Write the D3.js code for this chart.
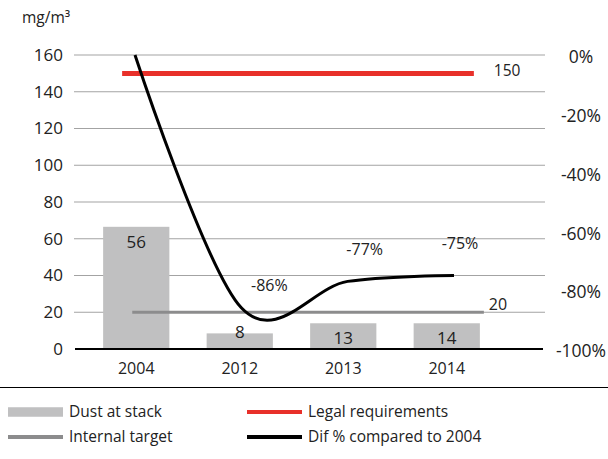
<!DOCTYPE html>
<html>
<head>
<meta charset="utf-8">
<script src="https://cdn.jsdelivr.net/npm/d3@7"></script>
<style>
  body { margin: 0; background: #fff; }
  svg { display: block; font-family: "Open Sans", "Noto Sans", sans-serif; }
</style>
</head>
<body>
<div id="chart"></div>
<script>
// data
const years = ["2004", "2012", "2013", "2014"];
const dustBars = [66.5, 8.5, 14, 14];        // drawn bar heights (mg/m3)
const dustLabels = ["56", "8", "13", "14"];  // printed values
const difPct = [0, -86, -77, -75];
const legalReq = 150;
const internalTarget = 20;
const leftTicks = [0, 20, 40, 60, 80, 100, 120, 140, 160];
const rightTicks = [0, -20, -40, -60, -80, -100];
const legendItems = [
  { label: "Dust at stack", color: "#c0c0c1", h: 9.5 },
  { label: "Legal requirements", color: "#e8302a", h: 4 },
  { label: "Internal target", color: "#8c8c8d", h: 4 },
  { label: "Dif % compared to 2004", color: "#000", h: 4 }
];

const width = 608, height = 459;
const svg = d3.select("#chart").append("svg")
  .attr("width", width)
  .attr("height", height);

const x = d3.scaleBand()
  .domain(years)
  .range([84.5, 498.5])
  .paddingInner(0.36)
  .paddingOuter(0.18);

// the curve sits on its own, slightly wider category spacing
const xLine = d3.scalePoint().domain(years).range([135, 454]);

const y = d3.scaleLinear().domain([0, 160]).range([349, 55]);
const yPct = d3.scaleLinear().domain([-100, 0]).range([349, 55]);

// gridlines
svg.append("g")
  .selectAll("line")
  .data(leftTicks.filter(d => d > 0))
  .join("line")
  .attr("x1", 74).attr("x2", 545)
  .attr("y1", d => y(d)).attr("y2", d => y(d))
  .attr("stroke", "#a3a3a3")
  .attr("stroke-width", 1.2);

// left axis labels
svg.append("g")
  .selectAll("text")
  .data(leftTicks)
  .join("text")
  .attr("x", 63)
  .attr("y", d => y(d))
  .attr("dy", "0.35em")
  .attr("text-anchor", "end")
  .attr("font-size", 17)
  .attr("fill", "#222")
  .text(d => d);

svg.append("text")
  .attr("x", 22).attr("y", 23)
  .attr("font-size", 15.5)
  .attr("fill", "#222")
  .text("mg/m³");

// right axis labels
svg.append("g")
  .selectAll("text")
  .data(rightTicks)
  .join("text")
  .attr("x", 581)
  .attr("y", d => yPct(d) + 2)
  .attr("dy", "0.35em")
  .attr("text-anchor", "middle")
  .attr("font-size", 17.5)
  .attr("fill", "#222")
  .text(d => d + "%");

// bars
svg.append("g")
  .selectAll("rect")
  .data(dustBars)
  .join("rect")
  .attr("x", (d, i) => x(years[i]))
  .attr("y", d => y(d))
  .attr("width", x.bandwidth())
  .attr("height", d => y(0) - y(d))
  .attr("fill", "#c0c0c1");

// bar value labels
svg.append("g")
  .selectAll("text")
  .data(dustBars)
  .join("text")
  .attr("x", (d, i) => x(years[i]) + x.bandwidth() / 2)
  .attr("y", d => (y(0) - y(d) > 20 ? y(d) + 15 : y(d) - 1))
  .attr("dy", "0.35em")
  .attr("text-anchor", "middle")
  .attr("font-size", 17)
  .attr("fill", "#222")
  .text((d, i) => dustLabels[i]);

// baseline
svg.append("line")
  .attr("x1", 75).attr("x2", 543)
  .attr("y1", y(0)).attr("y2", y(0))
  .attr("stroke", "#000")
  .attr("stroke-width", 2.2);

// year labels
svg.append("g")
  .selectAll("text")
  .data(years)
  .join("text")
  .attr("x", d => x(d) + x.bandwidth() / 2)
  .attr("y", 368)
  .attr("dy", "0.35em")
  .attr("text-anchor", "middle")
  .attr("font-size", 16)
  .attr("fill", "#222")
  .text(d => d);

// internal target
svg.append("line")
  .attr("x1", x(years[0]) + x.bandwidth() / 2 - 4)
  .attr("x2", x(years[3]) + x.bandwidth() + 4)
  .attr("y1", y(internalTarget)).attr("y2", y(internalTarget))
  .attr("stroke", "#8c8c8d")
  .attr("stroke-width", 3);

svg.append("text")
  .attr("x", x(years[3]) + x.bandwidth() + 9)
  .attr("y", y(internalTarget) - 8)
  .attr("dy", "0.35em")
  .attr("font-size", 16)
  .attr("fill", "#222")
  .text(internalTarget);

// legal requirement
svg.append("line")
  .attr("x1", x(years[0]) + 19)
  .attr("x2", x(years[3]) + x.bandwidth() - 6)
  .attr("y1", y(legalReq)).attr("y2", y(legalReq))
  .attr("stroke", "#e8302a")
  .attr("stroke-width", 5);

svg.append("text")
  .attr("x", x(years[3]) + x.bandwidth() + 14)
  .attr("y", y(legalReq) - 3)
  .attr("dy", "0.35em")
  .attr("font-size", 15.5)
  .attr("fill", "#222")
  .text(legalReq);

// dif % curve (smoothed like a spreadsheet line)
const line = d3.line()
  .x((d, i) => xLine(years[i]))
  .y(d => yPct(d))
  .curve(d3.curveCatmullRom.alpha(0));

svg.append("path")
  .datum(difPct)
  .attr("d", line)
  .attr("fill", "none")
  .attr("stroke", "#000")
  .attr("stroke-width", 3);

svg.append("g")
  .selectAll("text")
  .data(difPct.slice(1))
  .join("text")
  .attr("x", (d, i) => xLine(years[i + 1]) + 28 - i * 11)
  .attr("y", d => yPct(d) - 32 + (d < -80 ? 10 : 0))
  .attr("dy", "0.35em")
  .attr("text-anchor", "middle")
  .attr("font-size", 16)
  .attr("fill", "#222")
  .text(d => d + "%");

// legend
svg.append("line")
  .attr("x1", 0).attr("x2", width)
  .attr("y1", 387.5).attr("y2", 387.5)
  .attr("stroke", "#000")
  .attr("stroke-width", 1.2);

const lg = svg.append("g")
  .selectAll("g")
  .data(legendItems)
  .join("g")
  .attr("transform", (d, i) => `translate(${i % 2 ? 247 : 8},${i < 2 ? 412 : 437})`);

lg.append("rect")
  .attr("x", 0)
  .attr("y", d => -d.h / 2)
  .attr("width", 55)
  .attr("height", d => d.h)
  .attr("fill", d => d.color);

lg.append("text")
  .attr("x", 61)
  .attr("dy", "0.35em")
  .attr("font-size", 15.5)
  .attr("fill", "#222")
  .text(d => d.label);
</script>
</body>
</html>
